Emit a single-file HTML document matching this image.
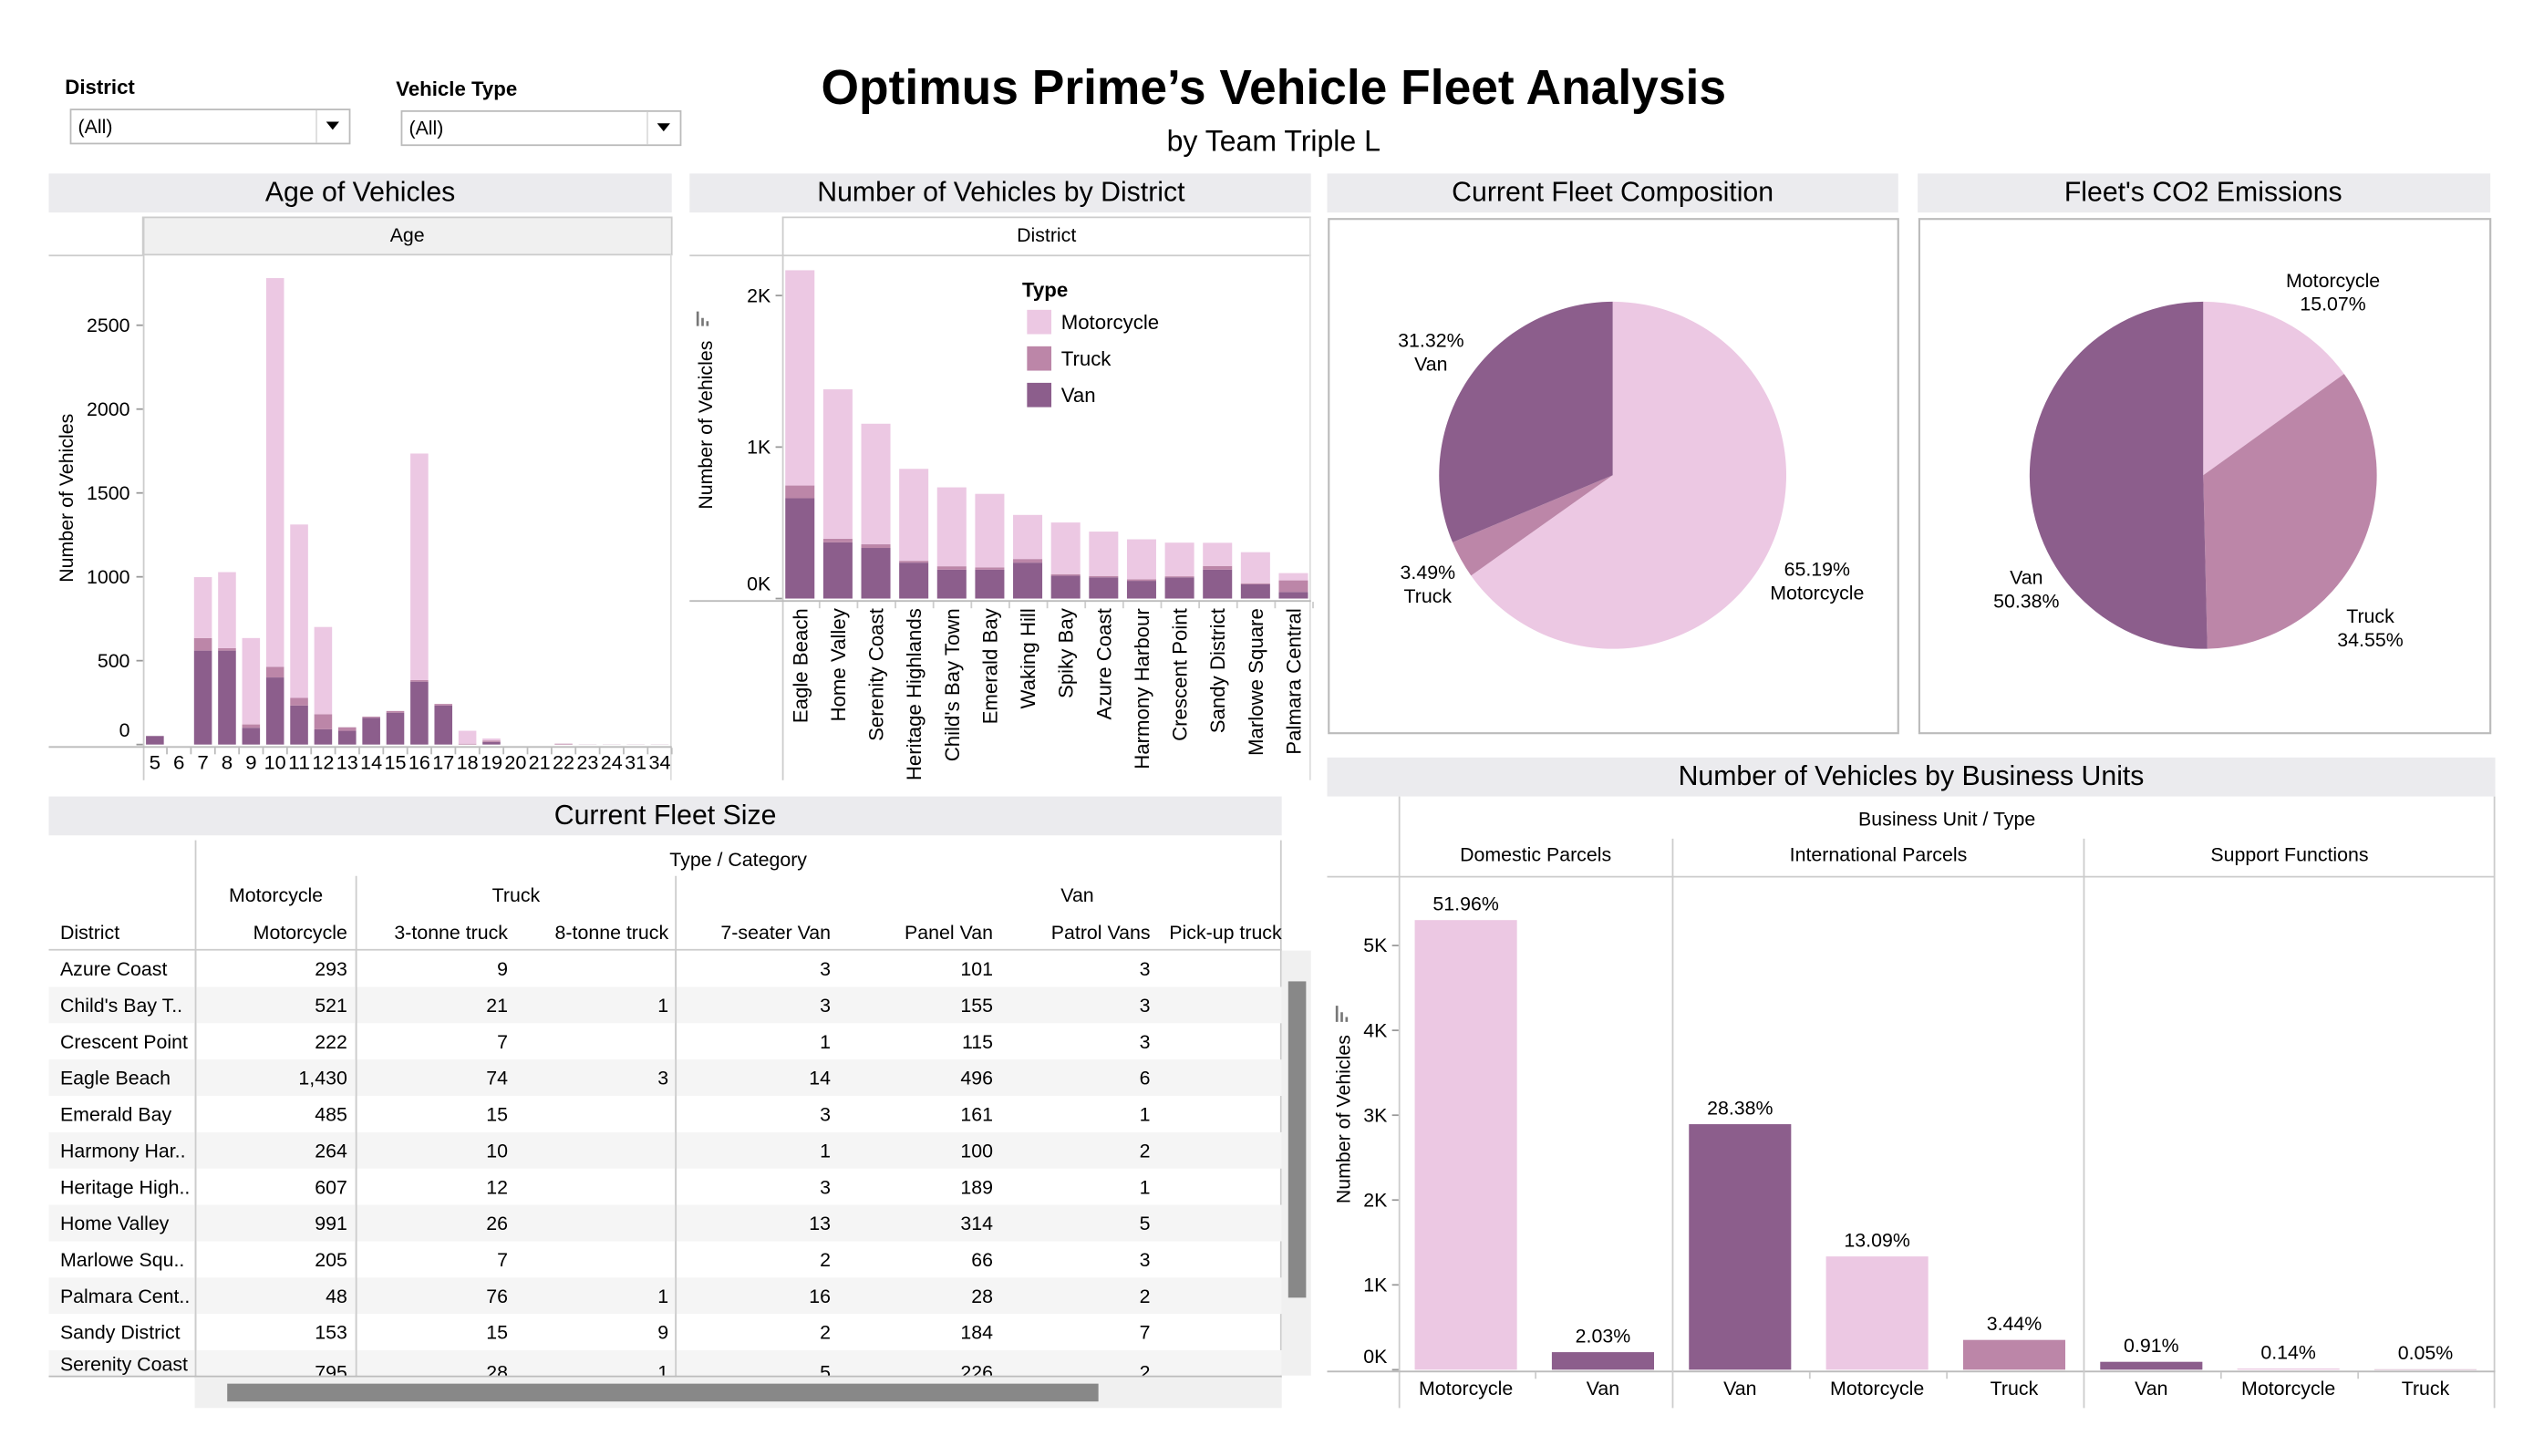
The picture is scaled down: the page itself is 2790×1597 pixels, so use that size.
<!DOCTYPE html>
<html><head><meta charset="utf-8"><style>
html,body{margin:0;padding:0;background:#fff;}
svg{display:block;font-family:"Liberation Sans",Arial,sans-serif;}
</style></head><body>
<svg id="s" width="2790" height="1597" viewBox="0 0 1568 897.6" xmlns="http://www.w3.org/2000/svg">
<g>
<text x="40" y="58" font-size="12.5" font-weight="bold">District</text>
<g><rect x="43.5" y="67.5" width="172" height="21" fill="#fff" stroke="#bbb"/><line x1="195" y1="68" x2="195" y2="88" stroke="#ddd"/><text x="48" y="82" font-size="12">(All)</text><path d="M201 75 h8 l-4 5z" fill="#000"/></g>
<text x="244" y="59" font-size="12.5" font-weight="bold">Vehicle Type</text>
<g><rect x="247.5" y="68.5" width="172" height="21" fill="#fff" stroke="#bbb"/><line x1="399" y1="69" x2="399" y2="89" stroke="#ddd"/><text x="252" y="83" font-size="12">(All)</text><path d="M405 76 h8 l-4 5z" fill="#000"/></g>
</g>
<text x="785" y="64" text-anchor="middle" font-size="30" font-weight="bold">Optimus Prime’s Vehicle Fleet Analysis</text>
<text x="785" y="93" text-anchor="middle" font-size="18">by Team Triple L</text>

<g fill="#ebebee">
<rect x="30" y="107" width="384" height="24"/>
<rect x="425" y="107" width="383" height="24"/>
<rect x="818" y="107" width="352" height="24"/>
<rect x="1182" y="107" width="353" height="24"/>
<rect x="818" y="467" width="720" height="24"/>
<rect x="30" y="491" width="760" height="24"/>
</g>
<g font-size="17" text-anchor="middle">
<text x="222" y="124">Age of Vehicles</text>
<text x="617" y="124">Number of Vehicles by District</text>
<text x="994" y="124">Current Fleet Composition</text>
<text x="1358" y="124">Fleet's CO2 Emissions</text>
<text x="1178" y="484">Number of Vehicles by Business Units</text>
<text x="410" y="508">Current Fleet Size</text>
</g>
<g id="age"></g>
<g id="dist"></g>
<g id="pies"></g>
<g id="bu"></g>
<g id="tbl"></g>
</svg>
<script>
const MOTO='#ecc8e3',TRUCK='#bc86a8',VAN='#8c5e8c';
// Age chart data
const ageCats=['5','6','7','8','9','10','11','12','13','14','15','16','17','18','19','20','21','22','23','24','31','34'];
const ageVan=[51,0,560,560,100,400,233,91,82,160,190,375,233,0,15,0,0,0,0,0,0,0];
const ageTruck=[0,0,75,15,20,63,45,90,21,6,10,9,9,5,9,0,0,5,1,1,1,1];
const ageMoto=[0,0,363,453,515,2318,1034,520,0,0,0,1351,0,77,12,0,0,0,0,0,0,0];
const ageTicks=[0,500,1000,1500,2000,2500];
// District chart data
const distCats=['Eagle Beach','Home Valley','Serenity Coast','Heritage Highlands',"Child's Bay Town",'Emerald Bay','Waking Hill','Spiky Bay','Azure Coast','Harmony Harbour','Crescent Point','Sandy District','Marlowe Square','Palmara Central'];
const distVan=[662,371,334,237,191,191,237,151,140,117,140,191,94,43];
const distTruck=[84,24,24,12,22,15,24,10,9,10,7,24,7,77];
const distMoto=[1421,986,796,607,521,485,291,341,293,264,222,153,205,48];
const distTicks=[0,1000,2000];
const distTickLabels=['0K','1K','2K'];
// Pie data
const compLabels=['Motorcycle','Truck','Van'];
const compValues=[65.19,3.49,31.32];
const co2Labels=['Motorcycle','Truck','Van'];
const co2Values=[15.07,34.55,50.38];
// Business unit data
const buUnits=['Domestic Parcels','International Parcels','Support Functions'];
const buCats=['Motorcycle','Van','Van','Motorcycle','Truck','Van','Motorcycle','Truck'];
const buUnitOf=[0,0,1,1,1,2,2,2];
const buValues=[5300,207,2894,1335,351,93,14,5];
const buPct=['51.96%','2.03%','28.38%','13.09%','3.44%','0.91%','0.14%','0.05%'];
const buTicks=[0,1000,2000,3000,4000,5000];
const buTickLabels=['0K','1K','2K','3K','4K','5K'];
// Table data
const tDistricts=['Azure Coast',"Child's Bay T..",'Crescent Point','Eagle Beach','Emerald Bay','Harmony Har..','Heritage High..','Home Valley','Marlowe Squ..','Palmara Cent..','Sandy District','Serenity Coast'];
const tMoto=['293','521','222','1,430','485','264','607','991','205','48','153','795'];
const tT3=['9','21','7','74','15','10','12','26','7','76','15','28'];
const tT8=['','1','','3','','','','','','1','9','1'];
const tV7=['3','3','1','14','3','1','3','13','2','16','2','5'];
const tPanel=['101','155','115','496','161','100','189','314','66','28','184','226'];
const tPatrol=['3','3','3','6','1','2','1','5','3','2','7','2'];

const NS='http://www.w3.org/2000/svg';
function mk(p,tag,at,txt){const e=document.createElementNS(NS,tag);for(const k in at)e.setAttribute(k,at[k]);if(txt!==undefined)e.textContent=txt;p.appendChild(e);return e;}

// ---- Age chart ----
(function(){
const g=document.getElementById('age');
const x0=88,x1=414,bw=(x1-x0)/ageCats.length;
const y=v=>459-v/500*51.7;
mk(g,'rect',{x:88,y:134,width:326,height:23,fill:'#f0f0f0',stroke:'#ccc'});
mk(g,'text',{x:251,y:149,'font-size':12,'text-anchor':'middle'},'Age');
mk(g,'line',{x1:30,y1:157.5,x2:88,y2:157.5,stroke:'#ccc'});
mk(g,'line',{x1:88.5,y1:134,x2:88.5,y2:481,stroke:'#ccc'});
mk(g,'line',{x1:413.5,y1:157,x2:413.5,y2:481,stroke:'#ddd'});
mk(g,'line',{x1:30,y1:460.5,x2:414,y2:460.5,stroke:'#bbb'});
ageTicks.forEach(t=>{const yy=y(t);
 const tk=mk(g,'line',{x1:84,y1:yy,x2:88,y2:yy,stroke:'#999'});
 
 const tl=mk(g,'text',{x:80,y:t===0?yy-5:yy+4,'font-size':12,'text-anchor':'end'},String(t));
 });
const yt=mk(g,'text',{x:0,y:0,'font-size':12,'text-anchor':'middle',transform:'translate(45,307) rotate(-90)'},'Number of Vehicles');

ageCats.forEach((c,i)=>{
 const cx=x0+bw*i+bw/2,w=11;let base=0;
 [[ageVan[i],VAN,'van'],[ageTruck[i],TRUCK,'truck'],[ageMoto[i],MOTO,'motorcycle']].forEach(([v,col,n])=>{
  if(v<=0)return;const r=mk(g,'rect',{x:cx-w/2,y:y(base+v),width:w,height:y(base)-y(base+v),fill:col});
  base+=v;});
 const tl=mk(g,'text',{x:cx,y:474,'font-size':12,'text-anchor':'middle',textLength:c.length>1?13.5:7,lengthAdjust:'spacingAndGlyphs'},c);
 
 mk(g,'line',{x1:x0+bw*(i+1),y1:461,x2:x0+bw*(i+1),y2:465,stroke:'#bbb'});
});
})();

// ---- District chart ----
(function(){
const g=document.getElementById('dist');
const x0=482,step=23.4,w=18;
const y=v=>369-v/1000*93.4;
mk(g,'line',{x1:482,y1:134,x2:808,y2:134,stroke:'#ccc'});
mk(g,'text',{x:645,y:149,'font-size':12,'text-anchor':'middle'},'District');
mk(g,'line',{x1:425,y1:157.5,x2:808,y2:157.5,stroke:'#ccc'});
mk(g,'line',{x1:482.5,y1:134,x2:482.5,y2:481,stroke:'#ccc'});
mk(g,'line',{x1:807.5,y1:134,x2:807.5,y2:481,stroke:'#ddd'});
mk(g,'line',{x1:425,y1:370.5,x2:808,y2:370.5,stroke:'#bbb'});
distTicks.forEach((t,i)=>{const yy=y(t);
 mk(g,'line',{x1:478,y1:yy,x2:482,y2:yy,stroke:'#999'});
 const tl=mk(g,'text',{x:475,y:t===0?yy-5:yy+4,'font-size':12,'text-anchor':'end'},distTickLabels[i]);
 });
const yt=mk(g,'text',{x:0,y:0,'font-size':12,'text-anchor':'middle',transform:'translate(439,262) rotate(-90)'},'Number of Vehicles');

mk(g,'path',{d:'M430 192v9M433 196v5M436 198v3',stroke:'#777','stroke-width':1.5});
distCats.forEach((c,i)=>{
 const cx=x0+11+step*i;let base=0;
 [[distVan[i],VAN,'van'],[distTruck[i],TRUCK,'truck'],[distMoto[i],MOTO,'motorcycle']].forEach(([v,col,n])=>{
  if(v<=0)return;const r=mk(g,'rect',{x:cx-w/2,y:y(base+v),width:w,height:y(base)-y(base+v),fill:col});
  base+=v;});
 const tl=mk(g,'text',{x:0,y:0,'font-size':12.5,'text-anchor':'end',transform:'translate('+(cx+4.5)+',375) rotate(-90)'},c);
 
 mk(g,'line',{x1:x0+step*(i+1)-0.3,y1:371,x2:x0+step*(i+1)-0.3,y2:375,stroke:'#ccc'});
});
const lg=mk(g,'g',{});
mk(lg,'text',{x:630,y:183,'font-size':12.5,'font-weight':'bold'},'Type');
[['Motorcycle',MOTO],['Truck',TRUCK],['Van',VAN]].forEach(([n,col],i)=>{
 const e=mk(lg,'rect',{x:633,y:191+i*22.5,width:15,height:15,fill:col});
 
 const t=mk(lg,'text',{x:654,y:203+i*22.5,'font-size':12.5},n);
 });
})();

// ---- Pies ----
(function(){
const g=document.getElementById('pies');
mk(g,'rect',{x:819,y:135,width:351,height:317,fill:'none',stroke:'#bbb','stroke-width':1.2});
mk(g,'rect',{x:1183,y:135,width:352,height:317,fill:'none',stroke:'#bbb','stroke-width':1.2});
const cols={Motorcycle:MOTO,Truck:TRUCK,Van:VAN};
function pie(cx,cy,r,labels,vals,name){
 const tot=vals.reduce((a,b)=>a+b,0);let a0=0;
 labels.forEach((l,i)=>{const a1=a0+vals[i]/tot*2*Math.PI;
  const p=(a)=>[cx+r*Math.sin(a),cy-r*Math.cos(a)];
  const [sx,sy]=p(a0),[ex,ey]=p(a1);
  const e=mk(g,'path',{d:`M${cx} ${cy}L${sx} ${sy}A${r} ${r} 0 ${a1-a0>Math.PI?1:0} 1 ${ex} ${ey}Z`,fill:cols[l]});
  a0=a1;});
}
pie(994,293,107,compLabels,compValues,'composition');
pie(1358,293,107,co2Labels,co2Values,'co2');
function lab(x,y,a,b,n){const t=mk(g,'text',{x:x,y:y,'font-size':12,'text-anchor':'middle'});
 
 mk(t,'tspan',{x:x,dy:0},a);mk(t,'tspan',{x:x,dy:14.5},b);}
lab(882,214,compValues[2].toFixed(2)+'%','Van','composition-label-van');
lab(880,357,compValues[1].toFixed(2)+'%','Truck','composition-label-truck');
lab(1120,355,compValues[0].toFixed(2)+'%','Motorcycle','composition-label-motorcycle');
lab(1438,177,'Motorcycle',co2Values[0].toFixed(2)+'%','co2-label-motorcycle');
lab(1249,360,'Van',co2Values[2].toFixed(2)+'%','co2-label-van');
lab(1461,384,'Truck',co2Values[1].toFixed(2)+'%','co2-label-truck');
})();

// ---- Business units ----
(function(){
const g=document.getElementById('bu');
const x0=862,step=84.5,w=63;
const y=v=>844.4-v/1000*52.3;
mk(g,'line',{x1:862.5,y1:491,x2:862.5,y2:868,stroke:'#ccc'});
mk(g,'line',{x1:1537.5,y1:491,x2:1537.5,y2:868,stroke:'#ccc'});
mk(g,'text',{x:1200,y:509,'font-size':12,'text-anchor':'middle'},'Business Unit  /  Type');
mk(g,'line',{x1:818,y1:540.5,x2:1538,y2:540.5,stroke:'#ccc'});
mk(g,'line',{x1:818,y1:845.5,x2:1538,y2:845.5,stroke:'#bbb'});
const bounds=[0,2,5,8];
buUnits.forEach((u,i)=>{const a=x0+step*bounds[i],b=x0+step*bounds[i+1];
 if(i>0)mk(g,'line',{x1:a,y1:517,x2:a,y2:868,stroke:'#ccc'});
 const t=mk(g,'text',{x:(a+b)/2,y:531,'font-size':12,'text-anchor':'middle'},u);
 });
buTicks.forEach((t,i)=>{const yy=y(t);
 mk(g,'line',{x1:858,y1:yy,x2:862,y2:yy,stroke:'#999'});
 const tl=mk(g,'text',{x:855,y:t===0?yy-4:yy+4,'font-size':12,'text-anchor':'end'},buTickLabels[i]);
 });
const yt=mk(g,'text',{x:0,y:0,'font-size':12,'text-anchor':'middle',transform:'translate(832,690) rotate(-90)'},'Number of Vehicles');

mk(g,'path',{d:'M824 620v10M827 624v6M830 627v3',stroke:'#777','stroke-width':1.5});
const cols={Motorcycle:MOTO,Truck:TRUCK,Van:VAN};
buCats.forEach((c,i)=>{
 const bx=x0+10+step*i;
 const r=mk(g,'rect',{x:bx,y:y(buValues[i]),width:w,height:844.4-y(buValues[i]),fill:cols[c]});
 
 const l=mk(g,'text',{x:bx+w/2,y:y(buValues[i])-6,'font-size':12,'text-anchor':'middle'},buPct[i]);
 
 const tl=mk(g,'text',{x:bx+w/2,y:860,'font-size':12,'text-anchor':'middle'},c);
 
 if(!bounds.includes(i+1))mk(g,'line',{x1:x0+step*(i+1),y1:846,x2:x0+step*(i+1),y2:850,stroke:'#ccc'});
});
})();

// ---- Table ----
(function(){
const g=document.getElementById('tbl');
mk(g,'text',{x:455,y:534,'font-size':12,'text-anchor':'middle'},'Type  /  Category');
mk(g,'line',{x1:120.5,y1:518,x2:120.5,y2:850,stroke:'#ccc'});
mk(g,'line',{x1:219.5,y1:540,x2:219.5,y2:850,stroke:'#ccc'});
mk(g,'line',{x1:416.5,y1:540,x2:416.5,y2:850,stroke:'#ccc'});
mk(g,'line',{x1:789.5,y1:518,x2:789.5,y2:850,stroke:'#ccc'});
mk(g,'line',{x1:30,y1:585.5,x2:790,y2:585.5,stroke:'#ccc'});
[['Motorcycle',170],['Truck',318],['Van',664]].forEach(([t,x])=>mk(g,'text',{x:x,y:556,'font-size':12,'text-anchor':'middle'},t));
mk(g,'text',{x:37,y:579,'font-size':12},'District');
const hdr=[['Motorcycle',214],['3-tonne truck',313],['8-tonne truck',412],['7-seater Van',512],['Panel Van',612],['Patrol Vans',709],['Pick-up truck',790]];
hdr.forEach(([t,x])=>{const e=mk(g,'text',{x:x,y:579,'font-size':12,'text-anchor':'end'},t);
 });
const cp=mk(g,'clipPath',{id:'tc'});mk(cp,'rect',{x:30,y:586,width:760,height:262});
const body=mk(g,'g',{'clip-path':'url(#tc)'});
const cols=[tMoto,tT3,tT8,tV7,tPanel,tPatrol];
tDistricts.forEach((d,i)=>{
 const top=586+i*22.4;
 if(i%2===1){mk(body,'rect',{x:30,y:top,width:760,height:22.4,fill:'#f5f5f5'});}
 const yy=i===11?846:top+15.5;
 const dl=mk(body,'text',{x:37,y:i===11?845:yy,'font-size':12},d);
 
 cols.forEach((arr,j)=>{if(!arr[i])return;
  const t=mk(body,'text',{x:hdr[j][1],y:i===11?850:yy,'font-size':12,'text-anchor':'end'},arr[i]);
  });
});
mk(g,'line',{x1:120.5,y1:586,x2:120.5,y2:850,stroke:'#ccc'});
mk(g,'line',{x1:219.5,y1:586,x2:219.5,y2:850,stroke:'#ccc'});
mk(g,'line',{x1:416.5,y1:586,x2:416.5,y2:850,stroke:'#ccc'});
mk(g,'line',{x1:30,y1:848.5,x2:790,y2:848.5,stroke:'#bbb'});
mk(g,'rect',{x:790,y:586,width:18,height:262,fill:'#f0f0f0'});
const vs=mk(g,'rect',{x:794,y:605,width:11,height:195,fill:'#888'});

mk(g,'rect',{x:120,y:849,width:670,height:19,fill:'#f0f0f0'});
const hs=mk(g,'rect',{x:140,y:853,width:537,height:11,fill:'#888'});

})();
</script>
</body></html>
